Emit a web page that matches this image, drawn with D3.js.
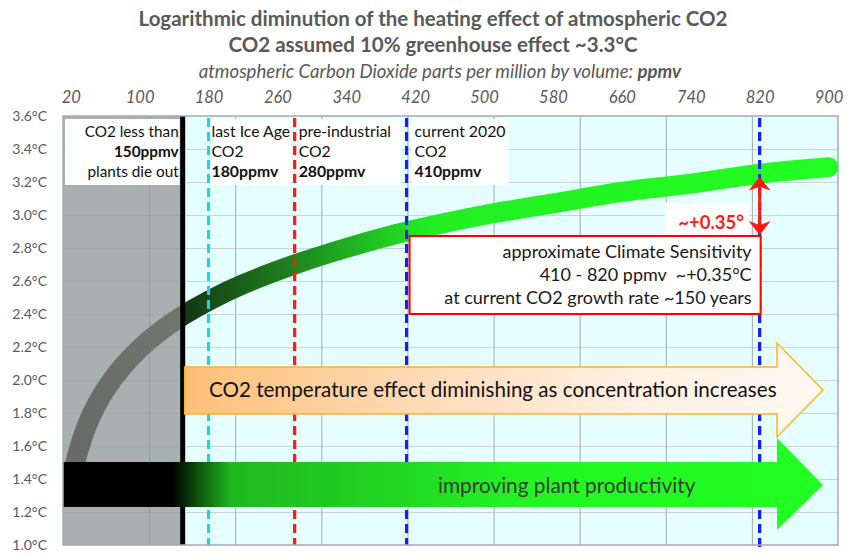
<!DOCTYPE html>
<html>
<head>
<meta charset="utf-8">
<script src="https://cdn.jsdelivr.net/npm/d3@7"></script>
<style>
  html, body { margin: 0; padding: 0; background: #ffffff; }
  svg { display: block; font-family: Lato, "Open Sans", sans-serif; }
  text { white-space: pre; }
</style>
</head>
<body>
<svg id="chart" width="850" height="557"></svg>
<script>
// ---------------- data ----------------
const titleLines = ["Logarithmic diminution of the heating effect of atmospheric CO2",
                    "CO2 assumed 10% greenhouse effect ~3.3°C"];
const subtitleText = "atmospheric Carbon Dioxide parts per million by volume: ";
const subtitleBold = "ppmv";

const xTickValues = [20, 100, 180, 260, 340, 420, 500, 580, 660, 740, 820, 900];
const yTickValues = [1.0, 1.2, 1.4, 1.6, 1.8, 2.0, 2.2, 2.4, 2.6, 2.8, 3.0, 3.2, 3.4, 3.6];
const xGridValues = [111, 211, 311, 411, 511, 611, 711, 811];

// warming curve (ppmv -> °C)
const curvePpm  = [20, 25, 30, 40, 50, 60, 80, 100, 120, 150, 180, 220, 280, 340, 410, 500, 580, 660, 740, 820, 900];
const curveTemp = [1.37, 1.49, 1.59, 1.74, 1.85, 1.94, 2.08, 2.19, 2.28, 2.39, 2.48, 2.58, 2.70, 2.80, 2.90, 3.00, 3.07, 3.14, 3.19, 3.25, 3.29];

// marker lines (ppmv)
const plantLimitPpm = 150;
const markerPpm   = [180, 280, 410, 820];
const markerNames = ["iceAge", "preIndustrial", "current", "doubled"];

// annotation texts
const plantLabel   = ["CO2 less than", "150ppmv", "plants die out"];
const iceLabel     = ["last Ice Age", "CO2", "180ppmv"];
const preLabel     = ["pre-industrial", "CO2", "280ppmv"];
const curLabel     = ["current 2020", "CO2", "410ppmv"];
const sensLines    = ["approximate Climate Sensitivity", "410 - 820 ppmv  ~+0.35°C", "at current CO2 growth rate ~150 years"];
const deltaLabel   = "~+0.35°";
const orangeText   = "CO2 temperature effect diminishing as concentration increases";
const greenText    = "improving plant productivity";

// ---------------- drawing ----------------
const svg = d3.select("#chart");
const L = 63, R = 838, T = 116, B = 545;
const x = d3.scaleLinear().domain([11, 911]).range([L, R]);
const y = d3.scaleLinear().domain([1.0, 3.6]).range([B, T]);

const markerStyle = {
  iceAge:        { color: "#1fd3e0" },
  preIndustrial: { color: "#ff1a1a" },
  current:       { color: "#1a1aff" },
  doubled:       { color: "#1a1aff" }
};

const defs = svg.append("defs");
defs.append("clipPath").attr("id", "plotClip").append("rect")
  .attr("x", L).attr("y", T).attr("width", R - L + 4).attr("height", B - T);

// curve gradient
const cg = defs.append("linearGradient").attr("id", "curveGrad")
  .attr("gradientUnits", "userSpaceOnUse").attr("x1", L).attr("x2", R).attr("y1", 0).attr("y2", 0);
[[0, "#000000"], [(x(150) - L) / (R - L), "#153515"], [(300 - L) / (R - L), "#1f8a1f"],
 [(430 - L) / (R - L), "#22ee22"], [1, "#22ff22"]].forEach(s =>
  cg.append("stop").attr("offset", s[0]).attr("stop-color", s[1]));

// orange arrow gradient
const og = defs.append("linearGradient").attr("id", "orangeGrad")
  .attr("gradientUnits", "userSpaceOnUse").attr("x1", 186).attr("x2", 823).attr("y1", 0).attr("y2", 0);
[[0, "#ffc078"], [0.35, "#fdd9b4"], [0.7, "#fff0e2"], [1, "#fff8f2"]].forEach(s =>
  og.append("stop").attr("offset", s[0]).attr("stop-color", s[1]));

// green arrow gradient
const gg = defs.append("linearGradient").attr("id", "greenGrad")
  .attr("gradientUnits", "userSpaceOnUse").attr("x1", L).attr("x2", 823).attr("y1", 0).attr("y2", 0);
[[0, "#000000"], [(172 - L) / (823 - L), "#000000"], [(200 - L) / (823 - L), "#0d5a0d"],
 [(232 - L) / (823 - L), "#1fb81f"], [(400 - L) / (823 - L), "#22d822"], [(520 - L) / (823 - L), "#22f522"], [1, "#22ff22"]]
  .forEach(s => gg.append("stop").attr("offset", s[0]).attr("stop-color", s[1]));

// plot background
svg.append("rect").attr("x", L).attr("y", T).attr("width", R - L).attr("height", B - T).attr("fill", "#e5ffff");

// horizontal gridlines via axis
svg.append("g").attr("transform", `translate(${L},0)`)
  .call(d3.axisLeft(y).tickValues(yTickValues.slice(1, -1)).tickSize(-(R - L)).tickFormat(""))
  .call(g => g.select(".domain").remove())
  .call(g => g.selectAll("line").attr("stroke", "#c8d6d6").attr("stroke-width", 1));

// vertical gridlines via axis
svg.append("g").attr("transform", `translate(0,${B})`)
  .call(d3.axisBottom(x).tickValues(xGridValues).tickSize(-(B - T)).tickFormat(""))
  .call(g => g.select(".domain").remove())
  .call(g => g.selectAll("line").attr("stroke", "#a3abab").attr("stroke-width", 1));

// dashed marker lines
function markerLines(y1) {
  markerPpm.forEach((p, i) => {
    const name = markerNames[i];
    svg.append("line")
      .attr("x1", x(p)).attr("x2", x(p))
      .attr("y1", y1).attr("y2", name === "doubled" ? B + 4 : B)
      .attr("stroke", markerStyle[name].color).attr("stroke-width", 3)
      .attr("stroke-dasharray", "9,5");
  });
}
markerLines(T + 2);

// curve
const line = d3.line().x((d, i) => x(curvePpm[i])).y(d => y(d)).curve(d3.curveCatmullRom.alpha(0.5));
svg.append("path").datum(curveTemp)
  .attr("clip-path", "url(#plotClip)")
  .attr("d", line)
  .attr("fill", "none").attr("stroke", "url(#curveGrad)")
  .attr("stroke-width", 20).attr("stroke-linecap", "round");

// dashed lines run above the curve in the picture
markerLines(T + 2);

// gray "plants die" overlay
svg.append("rect").attr("x", L).attr("y", T).attr("width", x(plantLimitPpm) - L).attr("height", B - T)
  .attr("fill", "#919191").attr("fill-opacity", 0.72);

// black limit line
svg.append("line").attr("x1", x(plantLimitPpm)).attr("x2", x(plantLimitPpm))
  .attr("y1", T).attr("y2", B).attr("stroke", "#000").attr("stroke-width", 5);

// label boxes
function labelBox(x0, x1, lines, anchor, boldIdx, tx, fs) {
  svg.append("rect").attr("x", x0).attr("y", 119).attr("width", x1 - x0).attr("height", 66).attr("fill", "#ffffff");
  lines.forEach((t, i) => {
    svg.append("text").attr("x", tx).attr("y", 137 + i * 20)
      .attr("text-anchor", anchor).attr("font-size", fs)
      .attr("font-weight", i === boldIdx ? 700 : 400).attr("fill", "#111")
      .text(t);
  });
}
const xp = x(plantLimitPpm);
labelBox(L + 2, xp - 3, plantLabel, "end", 1, xp - 4, 15.3);
labelBox(x(180) + 2, x(280) - 3, iceLabel, "start", 2, x(180) + 3, 15.8);
labelBox(x(280) + 3, x(410) - 6, preLabel, "start", 2, x(280) + 4, 15.8);
labelBox(x(410) + 5, x(410) + 102, curLabel, "start", 2, x(410) + 8, 15.8);

// climate sensitivity box
const xa = x(410), xb = x(820);
svg.append("rect").attr("x", xa + 3).attr("y", 236).attr("width", xb - xa - 2).attr("height", 78)
  .attr("fill", "#ffffff").attr("stroke", "#ff0000").attr("stroke-width", 2);
sensLines.forEach((t, i) => {
  svg.append("text").attr("x", xb - 8).attr("y", 258 + i * 23).attr("text-anchor", "end")
    .attr("font-size", 18).attr("fill", "#1a1a1a").text(t);
});

// delta label
svg.append("rect").attr("x", 665).attr("y", 203).attr("width", 84).attr("height", 32).attr("fill", "#ffffff");
svg.append("text").attr("x", 744).attr("y", 229).attr("text-anchor", "end")
  .attr("font-size", 18.5).attr("font-weight", 700).attr("fill", "#ff1a1a").text(deltaLabel);

// red double arrow from the 820 ppmv curve value down to the box
const yTop = y(curveTemp[curvePpm.indexOf(820)]) + 3;
const yBot = 235;
svg.append("line").attr("x1", xb).attr("x2", xb).attr("y1", yTop + 6).attr("y2", yBot - 6)
  .attr("stroke", "#ff1a1a").attr("stroke-width", 3);
svg.append("path").attr("d", `M${xb},${yTop} L${xb + 11},${yTop + 14} L${xb},${yTop + 10} L${xb - 11},${yTop + 14} Z`)
  .attr("fill", "#ff1a1a");
svg.append("path").attr("d", `M${xb},${yBot} L${xb + 11},${yBot - 14} L${xb},${yBot - 10} L${xb - 11},${yBot - 14} Z`)
  .attr("fill", "#ff1a1a");

// orange arrow
const oy0 = 367, oy1 = 414, oNeck = 777, oTip = 823, oHt = 343, oHb = 437, oMid = 390;
svg.append("path")
  .attr("d", `M${xp + 2},${oy0} L${oNeck},${oy0} L${oNeck},${oHt} L${oTip},${oMid} L${oNeck},${oHb} L${oNeck},${oy1} L${xp + 2},${oy1} Z`)
  .attr("fill", "url(#orangeGrad)").attr("stroke", "#ffb41e").attr("stroke-width", 1.5);
svg.append("text").attr("x", 209).attr("y", 397).attr("font-size", 20.6).attr("fill", "#111").text(orangeText);

// green arrow
const gy0 = 462, gy1 = 507, gNeck = 777, gTip = 823, gHt = 438, gHb = 530, gMid = 485;
svg.append("path")
  .attr("d", `M${L},${gy0} L${gNeck},${gy0} L${gNeck},${gHt} L${gTip},${gMid} L${gNeck},${gHb} L${gNeck},${gy1} L${L},${gy1} Z`)
  .attr("fill", "url(#greenGrad)");
svg.append("text").attr("x", 438).attr("y", 493).attr("font-size", 20.8).attr("fill", "#3a3a3a").text(greenText);

// plot border
svg.append("rect").attr("x", L).attr("y", T).attr("width", R - L).attr("height", B - T)
  .attr("fill", "none").attr("stroke", "#9eaaba").attr("stroke-width", 1.5);

// y axis labels
svg.append("g").attr("transform", `translate(${L},0)`)
  .call(d3.axisLeft(y).tickValues(yTickValues).tickSize(0).tickPadding(16).tickFormat(d => d3.format(".1f")(d) + "°C"))
  .call(g => g.select(".domain").remove())
  .call(g => g.selectAll("text").attr("font-size", 14).attr("fill", "#595959").attr("font-family", "Lato, sans-serif"));

// top x axis labels
svg.append("g").attr("transform", `translate(0,${T})`)
  .call(d3.axisTop(x).tickValues(xTickValues).tickSize(0).tickPadding(13).tickFormat(d3.format("d")))
  .call(g => g.select(".domain").remove())
  .call(g => g.selectAll("text").attr("font-size", 16.5).attr("font-style", "italic").attr("fill", "#595959").attr("font-family", "Lato, sans-serif"));

// titles
titleLines.forEach((t, i) => {
  svg.append("text").attr("x", 433).attr("y", 26 + i * 26).attr("text-anchor", "middle")
    .attr("font-size", 20.5).attr("font-weight", 700).attr("fill", "#595959").text(t);
});
const st = svg.append("text").attr("x", 440).attr("y", 78).attr("text-anchor", "middle")
  .attr("font-size", 18.6).attr("font-style", "italic").attr("fill", "#595959");
st.append("tspan").text(subtitleText);
st.append("tspan").attr("font-weight", 700).text(subtitleBold);
</script>
</body>
</html>
